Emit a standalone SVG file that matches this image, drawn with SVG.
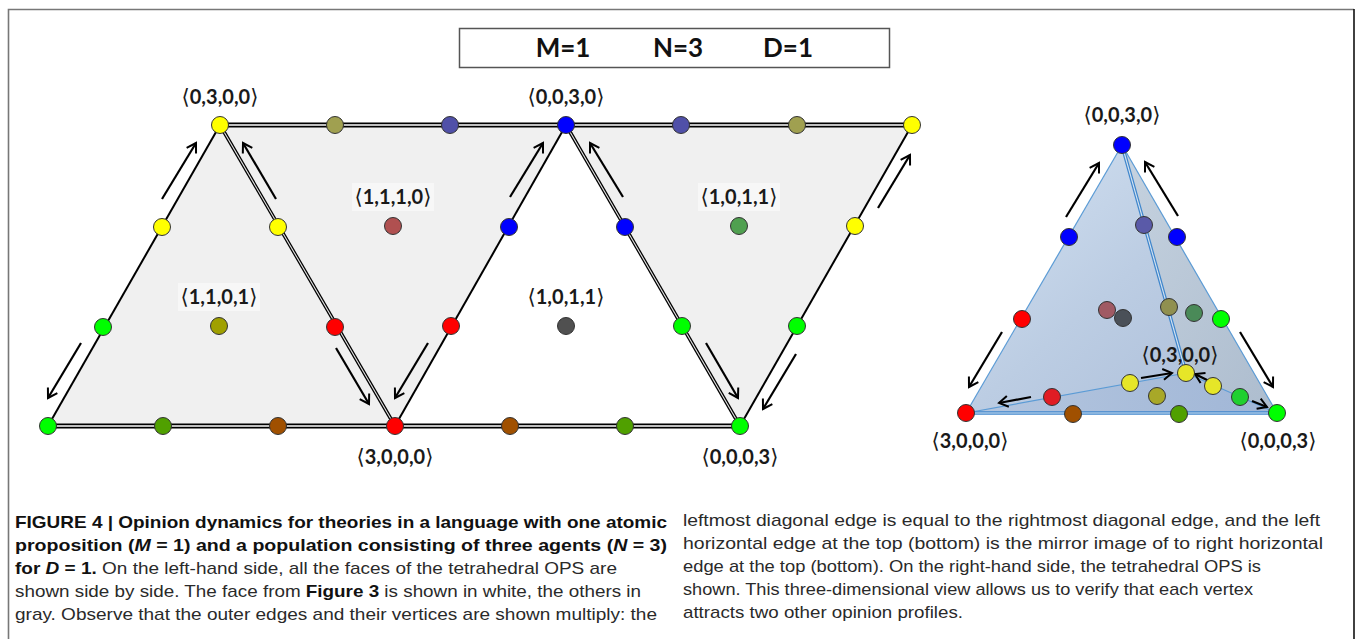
<svg xmlns="http://www.w3.org/2000/svg" width="1357" height="639" viewBox="0 0 1357 639">
  <style>
    .lbl { font-family: "Lato", "Open Sans", "DejaVu Sans", sans-serif; font-weight: 700; font-size: 20px; fill: #1a1a1a; text-anchor: middle; }
    .br { font-family: "DejaVu Sans", sans-serif; font-weight: 400; font-size: 21px; }
    .ttl { font-family: "Lato", "Open Sans", sans-serif; font-weight: 700; font-size: 26px; fill: #111; text-anchor: middle; }
    .cap { font-family: "Liberation Sans Narrow", "Liberation Sans", Arial, sans-serif; font-size: 17px; fill: #2a2a2a; }
    .capb { font-weight: 700; fill: #111; }
    .nd { stroke: #333; stroke-width: 1; }
    .edge { stroke: #000; stroke-width: 2; fill: none; }
    .dbl-o { stroke: #000; stroke-width: 5; fill: none; }
    .dbl-i { stroke: #fff; stroke-width: 1.6; fill: none; }
    .thn-o { stroke: #000; stroke-width: 3.6; fill: none; }
    .thn-i { stroke: #e4e4e4; stroke-width: 1.1; fill: none; }
    .arr { stroke: #000; stroke-width: 2.2; fill: none; marker-end: url(#head); }
    .tet { stroke: #5b9bd5; stroke-width: 1.2; fill: none; }
    .tet2o { stroke: #3f86cc; stroke-width: 3.6; fill: none; }
    .tet2i { stroke: #d6e4f2; stroke-width: 1.1; fill: none; }
  </style>
  <defs>
    <marker id="head" markerUnits="userSpaceOnUse" markerWidth="14" markerHeight="14" refX="11" refY="7" orient="auto">
      <path d="M2,1.5 L11,7 L2,12.5" fill="none" stroke="#000" stroke-width="2"/>
    </marker>
    <linearGradient id="front" x1="0" y1="0" x2="1" y2="1">
      <stop offset="0" stop-color="#d4e2f2"/>
      <stop offset="0.5" stop-color="#bccde3"/>
      <stop offset="1" stop-color="#aabcd8"/>
    </linearGradient>
    <linearGradient id="side" x1="0" y1="0" x2="1" y2="1">
      <stop offset="0" stop-color="#c6d2de"/>
      <stop offset="1" stop-color="#adbccc"/>
    </linearGradient>
    <linearGradient id="base" x1="0" y1="0" x2="1" y2="0">
      <stop offset="0" stop-color="#b4c6df"/>
      <stop offset="1" stop-color="#9fb5d6"/>
    </linearGradient>
  </defs>

  <!-- frame -->
  <rect x="0" y="0" width="1357" height="639" fill="#fff"/>
  <path d="M8.5,639 V9.5 H1354" fill="none" stroke="#777" stroke-width="1.6"/>
  <path d="M1354,9 V639" fill="none" stroke="#111" stroke-width="1.6"/>

  <!-- parameter box -->
  <g id="params">
    <rect x="459.5" y="28.5" width="430" height="39" fill="#fff" stroke="#555" stroke-width="1.5"/>
    <text class="ttl" x="563" y="57">M=1</text>
    <text class="ttl" x="678" y="57">N=3</text>
    <text class="ttl" x="788" y="57">D=1</text>
  </g>

  <!-- unfolded faces -->
  <g id="faces">
    <polygon points="48,426 220,125 912,125 740,426" fill="#f0f0f0"/>
    <polygon points="395,426 566,125 740,426" fill="#fff"/>
  </g>

  <!-- connectors: unfolded net -->
  <g id="connectors">
    <line class="dbl-o" x1="220" y1="125" x2="912" y2="125"/>
    <line class="dbl-i" x1="220" y1="125" x2="912" y2="125"/>
    <line class="dbl-o" x1="48" y1="426" x2="740" y2="426"/>
    <line class="dbl-i" x1="48" y1="426" x2="740" y2="426"/>
    <line class="edge" x1="48" y1="426" x2="220" y2="125"/>
    <line class="thn-o" x1="220" y1="125" x2="395" y2="426"/>
    <line class="thn-i" x1="220" y1="125" x2="395" y2="426"/>
    <line class="edge" x1="395" y1="426" x2="566" y2="125"/>
    <line class="thn-o" x1="566" y1="125" x2="740" y2="426"/>
    <line class="thn-i" x1="566" y1="125" x2="740" y2="426"/>
    <line class="edge" x1="740" y1="426" x2="912" y2="125"/>

    <line class="arr" x1="162" y1="199" x2="196" y2="143"/>
    <line class="arr" x1="276" y1="199" x2="243" y2="143"/>
    <line class="arr" x1="81" y1="343" x2="48" y2="398"/>
    <line class="arr" x1="336" y1="348" x2="369" y2="404"/>
    <line class="arr" x1="428" y1="343" x2="395" y2="398"/>
    <line class="arr" x1="510" y1="197" x2="543" y2="143"/>
    <line class="arr" x1="623" y1="197" x2="590" y2="143"/>
    <line class="arr" x1="706" y1="343" x2="738" y2="398"/>
    <line class="arr" x1="796" y1="354" x2="763" y2="409"/>
    <line class="arr" x1="878" y1="208" x2="910" y2="155"/>
  </g>

  <!-- face labels -->
  <g id="face-labels">
    <rect x="352" y="183" width="82" height="28" fill="#f7f7f7"/>
    <text class="lbl" x="393" y="204"><tspan class="br">⟨</tspan>1,1,1,0<tspan class="br">⟩</tspan></text>
    <rect x="178" y="283" width="82" height="28" fill="#f7f7f7"/>
    <text class="lbl" x="219" y="304"><tspan class="br">⟨</tspan>1,1,0,1<tspan class="br">⟩</tspan></text>
    <text class="lbl" x="566" y="304"><tspan class="br">⟨</tspan>1,0,1,1<tspan class="br">⟩</tspan></text>
    <rect x="698" y="183" width="82" height="28" fill="#f7f7f7"/>
    <text class="lbl" x="739" y="204"><tspan class="br">⟨</tspan>1,0,1,1<tspan class="br">⟩</tspan></text>
    <text class="lbl" x="220" y="104"><tspan class="br">⟨</tspan>0,3,0,0<tspan class="br">⟩</tspan></text>
    <text class="lbl" x="566" y="104"><tspan class="br">⟨</tspan>0,0,3,0<tspan class="br">⟩</tspan></text>
    <text class="lbl" x="395" y="464"><tspan class="br">⟨</tspan>3,0,0,0<tspan class="br">⟩</tspan></text>
    <text class="lbl" x="740" y="464"><tspan class="br">⟨</tspan>0,0,0,3<tspan class="br">⟩</tspan></text>
  </g>

  <!-- opinion profiles on the net -->
  <g id="net-nodes">
    <circle id="n-0300" class="nd" cx="220" cy="125" r="8.5" fill="#ffff00"/>
    <circle id="n-0030" class="nd" cx="566" cy="125" r="8.5" fill="#0000ff"/>
    <circle id="n-0300b" class="nd" cx="912" cy="125" r="8.5" fill="#ffff00"/>
    <circle id="n-0003a" class="nd" cx="48" cy="426" r="8.5" fill="#00ff00"/>
    <circle id="n-3000" class="nd" cx="395" cy="426" r="8.5" fill="#ff0000"/>
    <circle id="n-0003" class="nd" cx="740" cy="426" r="8.5" fill="#00ff00"/>

    <circle class="nd" cx="335" cy="125" r="8.5" fill="#a0a050"/>
    <circle class="nd" cx="450" cy="125" r="8.5" fill="#5050a8"/>
    <circle class="nd" cx="681" cy="125" r="8.5" fill="#5050a8"/>
    <circle class="nd" cx="797" cy="125" r="8.5" fill="#a0a050"/>

    <circle class="nd" cx="163" cy="426" r="8.5" fill="#50a000"/>
    <circle class="nd" cx="278" cy="426" r="8.5" fill="#a05000"/>
    <circle class="nd" cx="510" cy="426" r="8.5" fill="#a05000"/>
    <circle class="nd" cx="625" cy="426" r="8.5" fill="#50a000"/>

    <circle class="nd" cx="103" cy="327" r="8.5" fill="#00ff00"/>
    <circle class="nd" cx="162" cy="227" r="8.5" fill="#ffff00"/>
    <circle class="nd" cx="278" cy="227" r="8.5" fill="#ffff00"/>
    <circle class="nd" cx="335" cy="327" r="8.5" fill="#ff0000"/>
    <circle class="nd" cx="451" cy="326" r="8.5" fill="#ff0000"/>
    <circle class="nd" cx="509" cy="227" r="8.5" fill="#0000ff"/>
    <circle class="nd" cx="625" cy="227" r="8.5" fill="#0000ff"/>
    <circle class="nd" cx="682" cy="326" r="8.5" fill="#00ff00"/>
    <circle class="nd" cx="797" cy="326" r="8.5" fill="#00ff00"/>
    <circle class="nd" cx="855" cy="226" r="8.5" fill="#ffff00"/>

    <circle id="n-1101" class="nd" cx="219" cy="326" r="8.5" fill="#a0a000"/>
    <circle id="n-1110" class="nd" cx="393" cy="226" r="8.5" fill="#b05050"/>
    <circle id="n-1011" class="nd" cx="566" cy="326" r="8.5" fill="#505050"/>
    <circle id="n-1011b" class="nd" cx="739" cy="226" r="8.5" fill="#50a050"/>
  </g>

  <!-- tetrahedral view -->
  <g id="tetra-faces">
    <polygon points="966,413 1122,145 1277,413" fill="url(#front)"/>
    <polygon points="1122,145 1186,373 1277,413" fill="url(#side)" opacity="0.85"/>
    <polygon points="966,413 1186,373 1277,413" fill="url(#base)" opacity="0.9"/>
  </g>
  <g id="tetra-connectors">
    <line class="tet" x1="966" y1="413" x2="1122" y2="145"/>
    <line class="tet" x1="1122" y1="145" x2="1277" y2="413"/>
    <polyline class="tet" points="966,413 1186,373 1277,413"/>
    <line class="tet2o" x1="1122" y1="145" x2="1186" y2="373"/>
    <line class="tet2i" x1="1122" y1="145" x2="1186" y2="373"/>
    <line class="tet2o" x1="966" y1="413" x2="1277" y2="413"/>
    <line class="tet2i" x1="966" y1="413" x2="1277" y2="413"/>

    <line class="arr" x1="1066" y1="217" x2="1099" y2="163"/>
    <line class="arr" x1="1178" y1="216" x2="1145" y2="162"/>
    <line class="arr" x1="1002" y1="332" x2="969" y2="387"/>
    <line class="arr" x1="1240" y1="332" x2="1273" y2="387"/>
    <line class="arr" x1="1031" y1="397" x2="999" y2="403"/>
    <line class="arr" x1="1141" y1="378" x2="1172" y2="373"/>
    <line class="arr" x1="1209" y1="381" x2="1195" y2="374"/>
    <line class="arr" x1="1252" y1="401" x2="1267" y2="407"/>
  </g>
  <g id="tetra-labels">
    <text class="lbl" x="1122" y="122"><tspan class="br">⟨</tspan>0,0,3,0<tspan class="br">⟩</tspan></text>
    <text class="lbl" x="1180" y="362"><tspan class="br">⟨</tspan>0,3,0,0<tspan class="br">⟩</tspan></text>
    <text class="lbl" x="970" y="448"><tspan class="br">⟨</tspan>3,0,0,0<tspan class="br">⟩</tspan></text>
    <text class="lbl" x="1278" y="448"><tspan class="br">⟨</tspan>0,0,0,3<tspan class="br">⟩</tspan></text>
  </g>
  <g id="tetra-nodes">
    <circle class="nd" cx="1122" cy="145" r="8.5" fill="#0000ff"/>
    <circle class="nd" cx="1069" cy="237" r="8.5" fill="#0000ff"/>
    <circle class="nd" cx="1177" cy="237" r="8.5" fill="#0000ff"/>
    <circle class="nd" cx="1144" cy="225" r="8.5" fill="#5a5aa8"/>
    <circle class="nd" cx="1022" cy="319" r="8.5" fill="#ff0000"/>
    <circle class="nd" cx="1107" cy="310" r="8.5" fill="#a05a64"/>
    <circle class="nd" cx="1123" cy="318" r="8.5" fill="#4a5058"/>
    <circle class="nd" cx="1169" cy="307" r="8.5" fill="#909050"/>
    <circle class="nd" cx="1194" cy="313" r="8.5" fill="#4a8a58"/>
    <circle class="nd" cx="1221" cy="319" r="8.5" fill="#00ff00"/>
    <circle class="nd" cx="1130" cy="383" r="8.5" fill="#e6e628"/>
    <circle class="nd" cx="1186" cy="373" r="8.5" fill="#e6e628"/>
    <circle class="nd" cx="1213" cy="386" r="8.5" fill="#e6e628"/>
    <circle class="nd" cx="1052" cy="397" r="8.5" fill="#e01c24"/>
    <circle class="nd" cx="1157" cy="396" r="8.5" fill="#a8a828"/>
    <circle class="nd" cx="1240" cy="397" r="8.5" fill="#20d030"/>
    <circle class="nd" cx="966" cy="413" r="8.5" fill="#ff0000"/>
    <circle class="nd" cx="1073" cy="414" r="8.5" fill="#a05000"/>
    <circle class="nd" cx="1179" cy="414" r="8.5" fill="#50a000"/>
    <circle class="nd" cx="1277" cy="413" r="8.5" fill="#00ff00"/>
  </g>

  <!-- caption -->
  <g id="caption">
    <text class="cap capb" x="15" y="528" textLength="652" lengthAdjust="spacingAndGlyphs">FIGURE 4 | Opinion dynamics for theories in a language with one atomic</text>
    <text class="cap capb" x="15" y="551" textLength="652" lengthAdjust="spacingAndGlyphs">proposition (<tspan font-style="italic">M</tspan> = 1) and a population consisting of three agents (<tspan font-style="italic">N</tspan> = 3)</text>
    <text class="cap" x="15" y="574" textLength="602" lengthAdjust="spacingAndGlyphs"><tspan class="capb">for <tspan font-style="italic">D</tspan> = 1.</tspan> On the left-hand side, all the faces of the tetrahedral OPS are</text>
    <text class="cap" x="15" y="597" textLength="626" lengthAdjust="spacingAndGlyphs">shown side by side. The face from <tspan class="capb">Figure 3</tspan> is shown in white, the others in</text>
    <text class="cap" x="15" y="620" textLength="642" lengthAdjust="spacingAndGlyphs">gray. Observe that the outer edges and their vertices are shown multiply: the</text>

    <text class="cap" x="683" y="526" textLength="637" lengthAdjust="spacingAndGlyphs">leftmost diagonal edge is equal to the rightmost diagonal edge, and the left</text>
    <text class="cap" x="683" y="549" textLength="640" lengthAdjust="spacingAndGlyphs">horizontal edge at the top (bottom) is the mirror image of to right horizontal</text>
    <text class="cap" x="683" y="572" textLength="578" lengthAdjust="spacingAndGlyphs">edge at the top (bottom). On the right-hand side, the tetrahedral OPS is</text>
    <text class="cap" x="683" y="595" textLength="570" lengthAdjust="spacingAndGlyphs">shown. This three-dimensional view allows us to verify that each vertex</text>
    <text class="cap" x="683" y="618" textLength="280" lengthAdjust="spacingAndGlyphs">attracts two other opinion profiles.</text>
  </g>
</svg>
